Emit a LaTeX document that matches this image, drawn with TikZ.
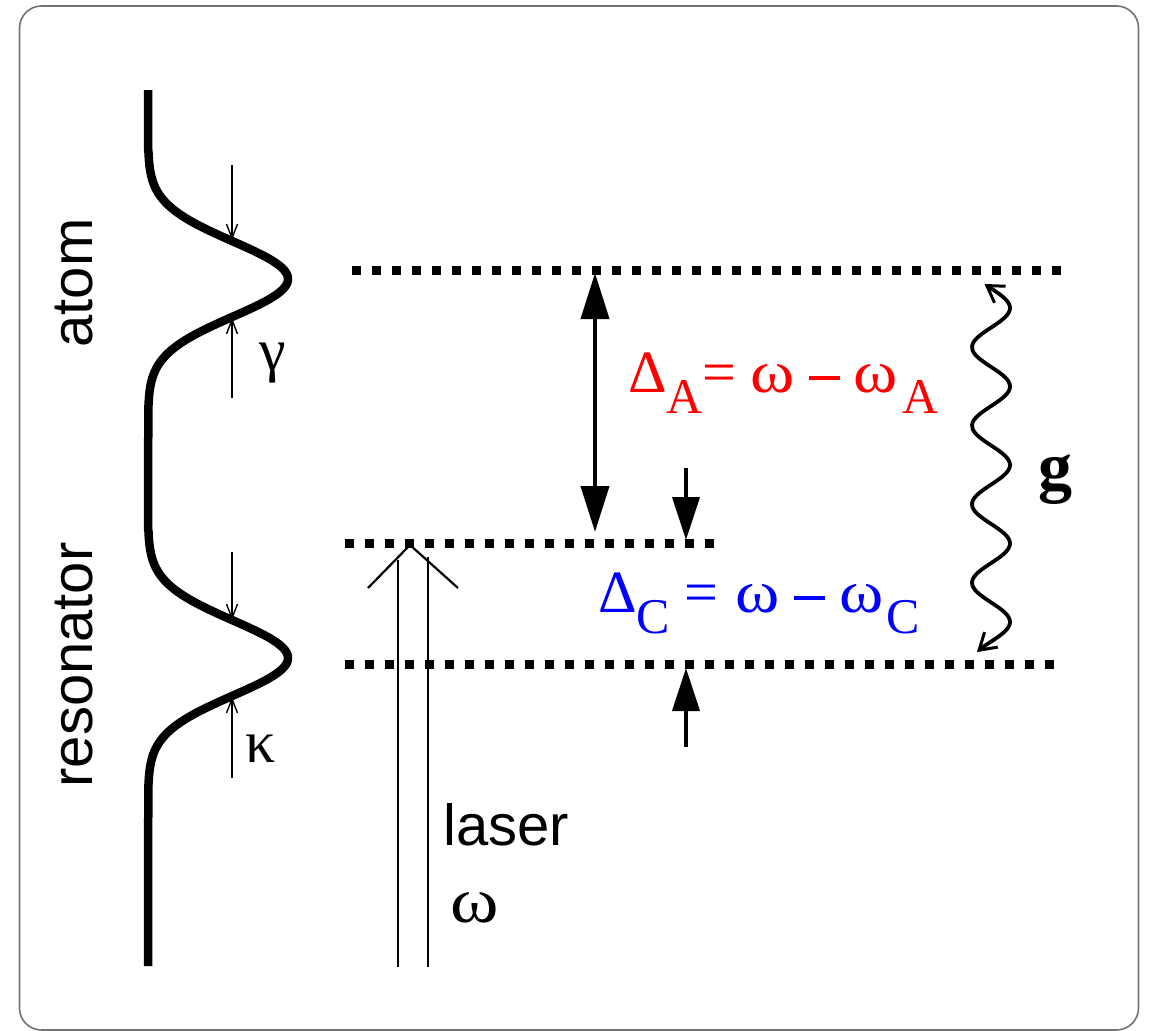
\documentclass[tikz,border=0pt]{standalone}
\usepackage{fontspec}
\setmainfont{Liberation Serif}
\setsansfont{Liberation Sans}
\usetikzlibrary{arrows.meta}
\definecolor{framegray}{gray}{0.45}
\definecolor{redA}{RGB}{255,0,0}
\definecolor{blueC}{RGB}{0,0,255}
\newcommand\sfbig{\sffamily\fontsize{58}{60}\selectfont}
\newcommand\rmbig{\rmfamily\fontsize{60}{62}\selectfont}
\newcommand\rmsub[1]{\raisebox{-21pt}{\fontsize{50}{52}\selectfont #1}}
\newcommand\wom{\scalebox{1.12}[1]{ω}}
\newcommand\mminus{\hspace{14pt}\rule[12pt]{31pt}{4pt}\hspace{14pt}}
\begin{document}
\begin{tikzpicture}[x=1pt,y=-1pt,
  levelline/.style={line width=9pt, dash pattern=on 9pt off 11pt},
  profile/.style={line width=8.5pt, line join=round},
  widtharrow/.style={line width=1.4pt, -{Straight Barb[length=14pt,width=11pt,line width=1.4pt]}},
  bigtip/.style={line width=4pt},
  laserline/.style={line width=2.2pt},
  wave/.style={line width=3.8pt},
  lbl/.style={inner sep=0pt}
]
\useasboundingbox (0,0) rectangle (1149,1031);
\draw[framegray, line width=1.6pt, rounded corners=22pt] (19.5,6) rectangle (1138.5,1030);

% spectral profile
\draw[profile] (148,90) -- (148,150)
  -- plot[smooth, domain=150:410, samples=120, variable=\t]
     ({148+140*exp(-((\t-279)/37.6)^2/2)}, \t)
  -- (148,530)
  -- plot[smooth, domain=530:790, samples=120, variable=\t]
     ({148+140*exp(-((\t-658)/37.6)^2/2)}, \t)
  -- (148,966);

% width arrows
\coordinate (g1s) at (232,165); \coordinate (g1e) at (232,240);
\coordinate (g2s) at (232,398); \coordinate (g2e) at (232,318);
\coordinate (k1s) at (232,552); \coordinate (k1e) at (232,620);
\coordinate (k2s) at (232,778); \coordinate (k2e) at (232,697);
\draw[widtharrow] (g1s) -- (g1e);
\draw[widtharrow] (g2s) -- (g2e);
\draw[widtharrow] (k1s) -- (k1e);
\draw[widtharrow] (k2s) -- (k2e);

\node[lbl, anchor=base west] (gamma) at (259,370) {\rmbig γ};
\node[lbl, anchor=base west] (kappa) at (245,762) {\rmbig κ};

\node[lbl, anchor=base, rotate=90] (atom) at (92,283) {\sfbig atom};
\node[lbl, anchor=base, rotate=90] (resonator) at (92,665) {\sfbig resonator};

% levels
\coordinate (atL) at (352,270.5); \coordinate (atR) at (1070,270.5);
\coordinate (caL) at (345,543); \coordinate (caR) at (720,543);
\coordinate (laL) at (345,664); \coordinate (laR) at (1062,664);
\draw[levelline] (atL) -- (atR);
\draw[levelline] (caL) -- (caR);
\draw[levelline] (laL) -- (laR);

% Delta_A arrow
\coordinate (dAt) at (595,273); \coordinate (dAb) at (595,532);
\draw[bigtip, {Triangle[length=46pt,width=28pt]}-{Triangle[length=46pt,width=28pt]}] (dAt) -- (dAb);

% Delta_C arrows
\coordinate (dC1s) at (686,468); \coordinate (dC1e) at (686,540);
\coordinate (dC2s) at (686,747); \coordinate (dC2e) at (686,668);
\draw[bigtip, -{Triangle[length=43pt,width=27pt]}] (dC1s) -- (dC1e);
\draw[bigtip, -{Triangle[length=43pt,width=27pt]}] (dC2s) -- (dC2e);

\node[lbl, anchor=base west, text=redA] (DA) at (628,392)
  {\rmbig Δ\rmsub{A}=\hspace{14pt}\wom\mminus\wom\hspace{4pt}\rmsub{A}};
\node[lbl, anchor=base west, text=blueC] (DC) at (598,612)
  {\rmbig Δ\rmsub{C}\hspace{14pt}=\hspace{18pt}\wom\mminus\wom\hspace{3pt}\rmsub{C}};

% coupling g
\draw[wave, {Straight Barb[length=16pt,width=20pt,line width=3pt]}-{Straight Barb[length=16pt,width=20pt,line width=3pt]}]
  plot[smooth, domain=284:652, samples=90, variable=\t]
  ({991+19*cos((\t-308)/78.5*360)}, \t);
\node[lbl, anchor=base west] (g) at (1038,489) {\rmfamily\bfseries\fontsize{68}{70}\selectfont g};

% laser
\coordinate (lL) at (398,560); \coordinate (lLb) at (398,967);
\coordinate (lR) at (428,557); \coordinate (lRb) at (428,967);
\coordinate (chL) at (368,588); \coordinate (chA) at (410,545); \coordinate (chR) at (458,588);
\draw[laserline] (lL) -- (lLb);
\draw[laserline] (lR) -- (lRb);
\draw[laserline] (chL) -- (chA) -- (chR);
\node[lbl, anchor=base west] (laser) at (443,845) {\sfbig laser};
\node[lbl, anchor=base west] (omega) at (450,922) {\rmfamily\fontsize{64}{66}\selectfont\scalebox{1.15}[1]{ω}};
\end{tikzpicture}
\end{document}
